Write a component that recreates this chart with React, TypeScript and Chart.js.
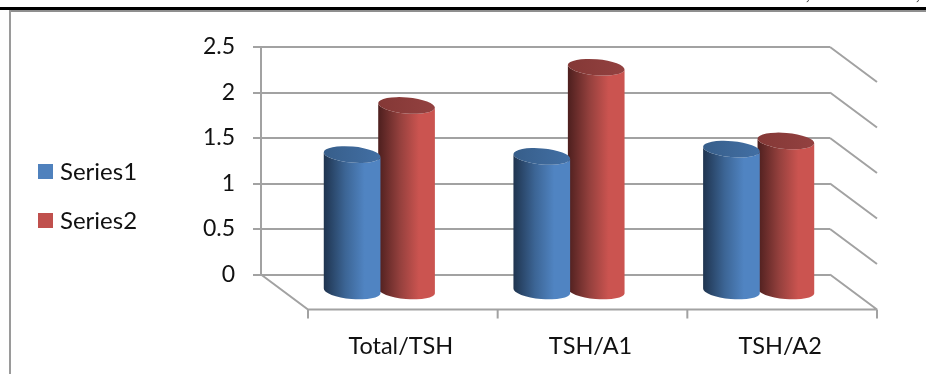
import React, { useEffect, useRef } from "react";
import { Chart, BarController, BarElement, registerables } from "chart.js";

const categories = ["Total/TSH", "TSH/A1", "TSH/A2"];
const series1 = [1.51, 1.49, 1.57];
const series2 = [2.05, 2.47, 1.66];
const yTicks = [0, 0.5, 1, 1.5, 2, 2.5];

const BLUE = "#4f81bd";
const RED = "#c0504d";
const FONT = "Lato, 'Open Sans', sans-serif";
const AXIS_GRAY = "#a2a2a2";

// Oblique depth of the 3-D box: the floor's front edge sits this far from the back wall.
const DEPTH_X = 47;
const DEPTH_Y = 35;

const shades: Record<string, { dark: string; mid: string; light: string; capA: string; capB: string }> = {
  [BLUE]: { dark: "#1f344f", mid: "#3c6595", light: "#5084c2", capA: "#375e8a", capB: "#426fa4" },
  [RED]: { dark: "#4d1f1e", mid: "#94403d", light: "#cb5450", capA: "#843836", capB: "#934140" },
};

// A bar drawn as a cylinder standing halfway into the box.
class CylinderElement extends BarElement {
  static id = "cylinderElement";
  draw(ctx: CanvasRenderingContext2D) {
    const { x, y, base, width } = (this as any).getProps(["x", "y", "base", "width"], true);
    const color = (this as any).options.backgroundColor as string;
    const s = shades[color];
    const cx = x + DEPTH_X / 2;
    const top = y + DEPTH_Y / 2;
    const bottom = base + DEPTH_Y / 2;
    const a = width / 2;
    const b = 8;
    const tilt = 0.085;
    const lx = cx - a * Math.cos(tilt);
    const rx = cx + a * Math.cos(tilt);

    const side = ctx.createLinearGradient(lx, 0, rx, 0);
    side.addColorStop(0, s.dark);
    side.addColorStop(0.38, s.mid);
    side.addColorStop(0.72, s.light);
    side.addColorStop(1, s.light);

    ctx.save();
    ctx.beginPath();
    ctx.ellipse(cx, top, a, b, tilt, Math.PI, 0, true);
    ctx.ellipse(cx, bottom, a, b, tilt, 0, Math.PI, false);
    ctx.closePath();
    ctx.fillStyle = side;
    ctx.fill();

    const cap = ctx.createLinearGradient(lx, 0, rx, 0);
    cap.addColorStop(0, s.capA);
    cap.addColorStop(1, s.capB);
    ctx.beginPath();
    ctx.ellipse(cx, top, a, b, tilt, 0, Math.PI * 2);
    ctx.fillStyle = cap;
    ctx.fill();
    ctx.restore();
  }
}

class CylinderController extends BarController {
  static id = "cylinder";
  static defaults = { ...BarController.defaults, dataElementType: "cylinderElement" };
}

Chart.register(...registerables, CylinderElement, CylinderController);

// Side walls and floor of the box, derived from the two scales.
const boxWalls = {
  id: "boxWalls",
  beforeDatasetsDraw(chart: any) {
    const { ctx, scales } = chart;
    const { x, y } = scales;
    ctx.save();
    ctx.strokeStyle = AXIS_GRAY;
    ctx.lineWidth = 2;
    ctx.beginPath();
    for (const v of yTicks) {
      const py = y.getPixelForValue(v);
      ctx.moveTo(x.right, py);
      ctx.lineTo(x.right + DEPTH_X, py + DEPTH_Y);
    }
    const floorY = y.getPixelForValue(0) + DEPTH_Y;
    ctx.moveTo(x.left, y.getPixelForValue(0));
    ctx.lineTo(x.left + DEPTH_X, floorY);
    ctx.lineTo(x.right + DEPTH_X, floorY);
    categories.forEach((_, i) => {
      const band = (x.right - x.left) / categories.length;
      const px = x.left + DEPTH_X + band * i;
      ctx.moveTo(px, floorY);
      ctx.lineTo(px, floorY + 9);
    });
    ctx.moveTo(x.right + DEPTH_X, floorY);
    ctx.lineTo(x.right + DEPTH_X, floorY + 9);
    ctx.stroke();
    ctx.restore();
  },
};

// Series key at the left of the plot: a colour square and the series name per row.
const seriesKey = {
  id: "seriesKey",
  afterDraw(chart: any) {
    const { ctx } = chart;
    ctx.save();
    ctx.font = `24px ${FONT}`;
    ctx.textBaseline = "middle";
    ctx.textAlign = "left";
    chart.data.datasets.forEach((ds: any, i: number) => {
      const rowY = 164 + i * 49;
      ctx.fillStyle = ds.backgroundColor;
      ctx.fillRect(38, rowY, 15, 15);
      ctx.fillStyle = "#111111";
      ctx.fillText(ds.label, 60, rowY + 8);
    });
    ctx.restore();
  },
};

export default function App() {
  const ref = useRef<HTMLCanvasElement>(null);

  useEffect(() => {
    document.body.style.margin = "0";
    const chart = new Chart(ref.current!, {
      type: "cylinder" as any,
      data: {
        labels: categories,
        datasets: [
          { label: "Series1", data: series1, backgroundColor: BLUE, borderWidth: 0, clip: false },
          { label: "Series2", data: series2, backgroundColor: RED, borderWidth: 0, clip: false },
        ],
      },
      plugins: [boxWalls, seriesKey],
      options: {
        responsive: false,
        animation: false,
        categoryPercentage: 0.574,
        barPercentage: 1.045,
        layout: { padding: { left: 0, top: 47, right: 96, bottom: 0 } },
        plugins: {
          tooltip: { enabled: false },
          legend: { display: false },
        },
        scales: {
          x: {
            type: "category",
            grid: { display: false },
            border: { display: false },
            afterFit(s: any) {
              s.height = 99.5;
              s.paddingLeft = 0;
              s.paddingRight = 0;
            },
            ticks: {
              color: "#111111",
              font: { family: FONT, size: 23.5 },
              labelOffset: 45,
              padding: 50,
              maxRotation: 0,
            },
          },
          y: {
            type: "linear",
            min: 0,
            max: 2.5,
            afterFit(s: any) {
              s.width = 261;
              s.paddingTop = 0;
              s.paddingBottom = 0;
            },
            border: { display: true, color: AXIS_GRAY, width: 2 },
            grid: { color: AXIS_GRAY, lineWidth: 2, tickLength: 8 },
            ticks: {
              stepSize: 0.5,
              color: "#111111",
              font: { family: FONT, size: 23 },
              padding: 18,
              callback: (v: any) => String(v),
            },
          },
        },
      } as any,
    });
    return () => chart.destroy();
  }, []);

  return (
    <div style={{ position: "relative", width: 926, height: 374, overflow: "hidden", background: "#fff" }}>
      <canvas ref={ref} width={926} height={374} style={{ display: "block" }} />
      {/* Page rules surrounding the figure */}
      <div style={{ position: "absolute", left: 0, right: 0, top: 7, height: 3, background: "#000" }} />
      <div style={{ position: "absolute", left: 9, right: 0, top: 10, height: 2, background: "#8f8f8f" }} />
      <div style={{ position: "absolute", left: 9, top: 10, width: 2, bottom: 0, background: "#9a9a9a" }} />
      <span style={{ position: "absolute", left: 806, top: -14, font: "16px 'Liberation Serif'", color: "#333" }}>,</span>
      <span style={{ position: "absolute", left: 916, top: -14, font: "16px 'Liberation Serif'", color: "#333" }}>,</span>
    </div>
  );
}
